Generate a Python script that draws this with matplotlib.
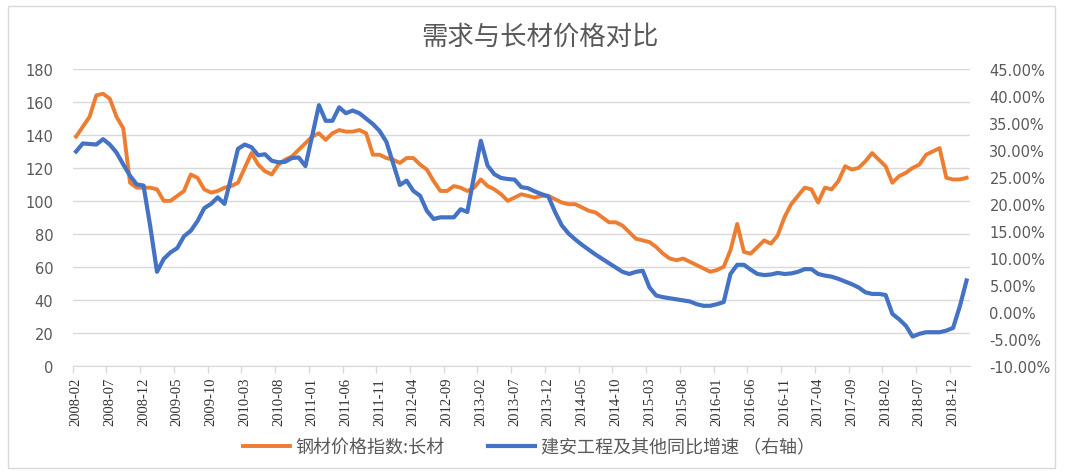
import matplotlib
matplotlib.use('Agg')
import matplotlib.pyplot as plt
from matplotlib.patches import Rectangle
from matplotlib.ticker import FixedLocator, FuncFormatter
import pandas as pd

TITLE = '需求与长材价格对比'
ORANGE_NAME = '钢材价格指数:长材'
BLUE_NAME = '建安工程及其他同比增速 （右轴）'

months = pd.period_range('2008-02', periods=133, freq='M').strftime('%Y-%m').tolist()

# 钢材价格指数:长材 (left axis)
long_steel = [
    139, 145, 151, 164, 165, 162, 151, 144, 111, 108,
    108, 108, 107, 100, 100, 103, 106, 116, 114, 107,
    105, 106, 108, 109, 111, 120, 129, 122, 118, 116,
    122, 125, 127, 131, 135, 139, 141, 137, 141, 143,
    142, 142, 143, 141, 128, 128, 126, 125, 123, 126,
    126, 122, 119, 112, 106, 106, 109, 108, 106, 108,
    113, 109, 107, 104, 100, 102, 104, 103, 102, 103,
    103, 101, 99, 98, 98, 96, 94, 93, 90, 87,
    87, 85, 81, 77, 76, 75, 72, 68, 65, 64,
    65, 63, 61, 59, 57, 58, 60, 70, 86, 69,
    68, 72, 76, 74, 79, 90, 98, 103, 108, 107,
    99, 108, 107, 112, 121, 119, 120, 124, 129, 125,
    121, 111, 115, 117, 120, 122, 128, 130, 132, 114,
    113, 113, 114,
]

# 建安工程及其他同比增速, % (right axis)
construction_yoy = [
    29.7, 31.2, 31.1, 31.0, 32.0, 31.0, 29.5, 27.3, 25.2, 23.6,
    23.4, 15.8, 7.4, 9.8, 11.0, 11.8, 14.0, 15.0, 16.8, 19.2,
    20.0, 21.2, 20.0, 25.0, 30.2, 31.0, 30.5, 29.0, 29.2, 28.0,
    27.7, 27.8, 28.5, 28.6, 27.0, 32.6, 38.3, 35.4, 35.4, 37.9,
    36.8, 37.3, 36.8, 35.8, 34.8, 33.5, 31.5, 27.5, 23.5, 24.3,
    22.4, 21.5, 18.7, 17.2, 17.5, 17.5, 17.5, 19.0, 18.5, 25.2,
    31.7, 27.1, 25.5, 24.8, 24.6, 24.5, 23.1, 22.9, 22.3, 21.8,
    21.4, 18.5, 16.0, 14.5, 13.4, 12.4, 11.5, 10.6, 9.8, 9.0,
    8.2, 7.4, 7.0, 7.4, 7.6, 4.5, 3.0, 2.7, 2.5, 2.3,
    2.1, 1.9, 1.4, 1.1, 1.1, 1.4, 1.8, 7.0, 8.7, 8.7,
    7.8, 7.0, 6.8, 6.9, 7.2, 7.0, 7.1, 7.4, 7.9, 7.9,
    7.0, 6.7, 6.5, 6.1, 5.6, 5.1, 4.5, 3.6, 3.3, 3.3,
    3.1, -0.4, -1.4, -2.6, -4.6, -4.1, -3.8, -3.8, -3.8, -3.5,
    -3.0, 1.0, 5.8,
]

left_ticks = list(range(0, 181, 20))
right_ticks = list(range(-10, 46, 5))

CJK = ['Noto Sans CJK SC', 'DejaVu Sans']
GRAY = '#595959'
GRID = '#d9d9d9'

fig = plt.figure(figsize=(10.8, 4.77), dpi=100)
fig.patches.append(Rectangle((0.0074, 0.0168), 0.9694, 0.9686, transform=fig.transFigure,
                             fill=False, edgecolor=GRID, linewidth=1.0))

ax1 = fig.add_axes([0.0673, 0.2313, 0.8308, 0.6219])
ax2 = ax1.twinx()

x = list(range(len(months)))
l1, = ax1.plot(x, long_steel, color='#ED7D31', linewidth=2.8, solid_joinstyle='round')
l2, = ax2.plot(x, construction_yoy, color='#4472C4', linewidth=3.0, solid_joinstyle='round')

ax1.set_xlim(-0.5, len(months) - 0.5)
ax1.set_ylim(0, 180)
ax2.set_ylim(-10, 45)

ax1.set_yticks(left_ticks)
ax2.set_yticks(right_ticks)
ax2.yaxis.set_major_formatter(FuncFormatter(lambda v, p: f'{v:.2f}%'))
ax1.grid(axis='y', color=GRID, linewidth=1.0)
ax1.set_axisbelow(True)

label_pos = x[::5]
ax1.set_xticks(label_pos)
ax1.set_xticklabels([months[i] for i in label_pos], rotation=90,
                    family='Liberation Serif', fontsize=10.5, color='#333333')
ax1.xaxis.set_minor_locator(FixedLocator([p - 0.5 for p in label_pos]))
ax1.tick_params(axis='x', which='major', length=0, pad=8)
ax1.tick_params(axis='x', which='minor', length=5, color=GRID, width=1)

for a in (ax1, ax2):
    for s in ('top', 'left', 'right'):
        a.spines[s].set_visible(False)
ax1.spines['bottom'].set_color(GRID)
ax2.spines['bottom'].set_visible(False)

ax1.tick_params(axis='y', length=0, pad=14, labelsize=10.5, labelcolor=GRAY)
ax2.tick_params(axis='y', length=0, pad=14, labelsize=10.5, labelcolor=GRAY)

fig.text(0.5, 0.922, TITLE, ha='center', va='center', fontsize=19, color=GRAY, family=CJK)

leg = fig.legend([l1, l2], [ORANGE_NAME, BLUE_NAME], loc='center', ncol=2,
                 bbox_to_anchor=(529 / 1080, 1 - 448 / 477), frameon=False,
                 handlelength=2.6, handletextpad=0.3, columnspacing=2.4,
                 prop={'family': CJK, 'size': 13})
for t in leg.get_texts():
    t.set_color(GRAY)

fig.savefig('out.png', dpi=100, facecolor='white')
